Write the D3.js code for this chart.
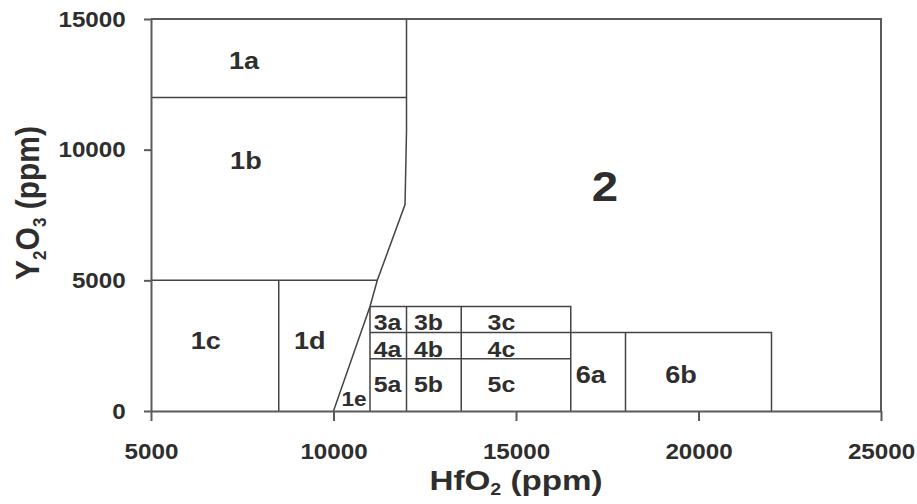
<!DOCTYPE html>
<html>
<head>
<meta charset="utf-8">
<script src="https://cdn.jsdelivr.net/npm/d3@7"></script>
<style>
  html, body { margin: 0; padding: 0; background: #fff; }
  svg { display: block; }
  text { font-family: "Liberation Sans", Arial, sans-serif; font-weight: bold; fill: #2e2e2e; }
</style>
</head>
<body>
<svg id="chart" width="917" height="504"></svg>
<script>
// ---- data ----
const xTicks = [5000, 10000, 15000, 20000, 25000];
const yTicks = [0, 5000, 10000, 15000];
const xDomain = [5000, 25000];
const yDomain = [0, 15000];

// field boundaries (HfO2 ppm, Y2O3 ppm)
const boundary12 = [[12000, 15000], [12000, 10700], [11960, 7900], [11200, 5000], [11000, 4000], [10000, 0]];
const line1a1b = [[5000, 12000], [12000, 12000]];
const line1b1c = [[5000, 5000], [11200, 5000]];
const line1c1d = [[8500, 5000], [8500, 0]];
const box3top = [[11000, 4000], [16500, 4000], [16500, 0]];
const line3left = [[11000, 4000], [11000, 0]];
const line3ab = [[12000, 4000], [12000, 0]];
const line3bc = [[13500, 4000], [13500, 0]];
const line34 = [[11000, 3000], [22000, 3000], [22000, 0]];
const line45 = [[11000, 2000], [16500, 2000]];
const line6ab = [[18000, 3000], [18000, 0]];

const fieldNames = ["1a", "1b", "1c", "1d", "1e", "2", "3a", "3b", "3c", "4a", "4b", "4c", "5a", "5b", "5c", "6a", "6b"];
const fieldX = [7550, 7600, 6500, 9350, 10560, 17440, 11480, 12600, 14600, 11480, 12600, 14600, 11480, 12600, 14600, 17050, 19520];
const fieldY = [13400, 9600, 2700, 2700, 450, 8600, 3400, 3400, 3400, 2360, 2360, 2360, 1000, 1000, 1000, 1400, 1400];

const xTitle = "HfO";
const yTitle = "Y";

// ---- layout ----
const svg = d3.select("#chart");
const margin = { top: 19, right: 36, bottom: 93, left: 151 };
const W = 917, H = 504;
const x = d3.scaleLinear().domain(xDomain).range([margin.left, W - margin.right]);
const y = d3.scaleLinear().domain(yDomain).range([H - margin.bottom, margin.top]);

const lineColor = "#444";
const line = d3.line().x(d => x(d[0])).y(d => y(d[1]));
const SX = 1.13;

// frame (top & right)
svg.append("path")
  .attr("d", line([[5000, 15000], [25000, 15000], [25000, 0]]))
  .attr("fill", "none").attr("stroke", "#5a5a5a").attr("stroke-width", 2);

// boundaries
const boundaries = [boundary12, line1a1b, line1b1c, line1c1d, box3top, line3left, line3ab, line3bc, line34, line45, line6ab];
svg.append("g").selectAll("path").data(boundaries).join("path")
  .attr("d", line)
  .attr("fill", "none")
  .attr("stroke", lineColor)
  .attr("stroke-width", 1.5);

// axes
const xAxis = svg.append("g")
  .attr("transform", `translate(0,${y(0)})`)
  .call(d3.axisBottom(x).tickValues(xTicks).tickSize(10).tickSizeOuter(0).tickPadding(22).tickFormat(d3.format("d")));
const yAxis = svg.append("g")
  .attr("transform", `translate(${x(5000)},0)`)
  .call(d3.axisLeft(y).tickValues(yTicks).tickSize(7).tickSizeOuter(0).tickPadding(16).tickFormat(d3.format("d")));
[xAxis, yAxis].forEach(g => {
  g.select(".domain").attr("stroke", "#5a5a5a").attr("stroke-width", 2);
  g.selectAll(".tick line").attr("stroke", "#5a5a5a").attr("stroke-width", 2);
  g.selectAll(".tick text")
    .attr("font-family", "Liberation Sans, Arial, sans-serif")
    .attr("font-weight", "bold")
    .attr("font-size", 22)
    .attr("fill", "#2e2e2e")
    .attr("transform", "scale(1.1,1)");
});

// field labels
svg.append("g").selectAll("text").data(fieldNames).join("text")
  .attr("transform", (d, i) => `translate(${x(fieldX[i])},${y(fieldY[i])}) scale(${SX},1)`)
  .attr("text-anchor", "middle")
  .attr("dominant-baseline", "central")
  .attr("font-size", d => d === "2" ? 42 : (d === "1e" ? 20 : (/^[345]/.test(d) ? 22 : 24)))
  .text(d => d);

// axis titles
const xt = svg.append("text")
  .attr("transform", `translate(${(x(5000) + x(25000)) / 2},490) scale(1.23,1)`)
  .attr("text-anchor", "middle")
  .attr("font-size", 27);
xt.append("tspan").text(xTitle);
xt.append("tspan").attr("font-size", 16).attr("dy", 5).text("2");
xt.append("tspan").attr("dy", -5).text(" (ppm)");

const yt = svg.append("text")
  .attr("transform", `translate(39,203) rotate(-90) scale(1,1.1)`)
  .attr("text-anchor", "middle")
  .attr("font-size", 30);
yt.append("tspan").text(yTitle);
yt.append("tspan").attr("font-size", 17).attr("dy", 6).text("2");
yt.append("tspan").attr("dy", -6).text("O");
yt.append("tspan").attr("font-size", 17).attr("dy", 6).text("3");
yt.append("tspan").attr("dy", -6).text(" (ppm)");
</script>
</body>
</html>
